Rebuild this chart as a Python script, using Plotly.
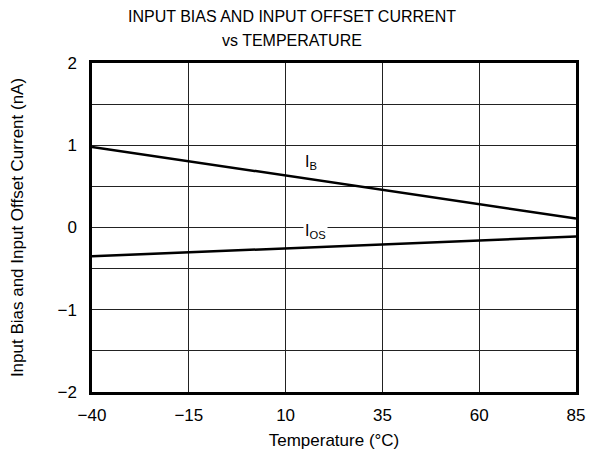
import plotly.graph_objects as go

temps = [-40, 85]
ib_values = [0.98, 0.11]
ios_values = [-0.35, -0.11]
x_ticks = [-40, -15, 10, 35, 60, 85]
y_ticks = [-2, -1, 0, 1, 2]

FONT = "Liberation Sans, Arial, sans-serif"

fig = go.Figure()
fig.add_trace(go.Scatter(x=temps, y=ib_values, mode="lines",
                         line=dict(color="black", width=2.5), showlegend=False))
fig.add_trace(go.Scatter(x=temps, y=ios_values, mode="lines",
                         line=dict(color="black", width=2.5), showlegend=False))

fig.add_annotation(x=16.5, y=0.79, text="I<sub>B</sub>", showarrow=False,
                   font=dict(family=FONT, size=16, color="black"))
fig.add_annotation(x=17.8, y=-0.05, text="I<sub>OS</sub>", showarrow=False,
                   bgcolor="white", borderpad=1,
                   font=dict(family=FONT, size=16, color="black"))

fig.add_annotation(xref="paper", yref="paper", x=0.4125, y=1.14,
                   text="INPUT BIAS AND INPUT OFFSET CURRENT", showarrow=False,
                   xanchor="center", yanchor="middle",
                   font=dict(family=FONT, size=16, color="black"))
fig.add_annotation(xref="paper", yref="paper", x=0.4125, y=1.067,
                   text="vs TEMPERATURE", showarrow=False,
                   xanchor="center", yanchor="middle",
                   font=dict(family=FONT, size=16, color="black"))

fig.update_layout(
    width=590, height=451,
    margin=dict(l=84, r=22, t=55, b=67),
    paper_bgcolor="white", plot_bgcolor="white",
    font=dict(family=FONT, size=17, color="black"),
)
fig.update_xaxes(range=[-40, 85], tickvals=x_ticks, showgrid=True,
                 gridcolor="#222", gridwidth=1.2, zeroline=False,
                 showline=True, linecolor="black", linewidth=2.5, mirror=True,
                 ticks="", ticklabelstandoff=6, automargin=False,
                 tickfont=dict(family=FONT, size=17),
                 title=dict(text="Temperature (°C)", standoff=10,
                            font=dict(family=FONT, size=17)))
fig.update_yaxes(range=[-2, 2], tickvals=y_ticks,
                 showgrid=True, gridcolor="#222", gridwidth=1.2, zeroline=False,
                 minor=dict(dtick=0.5, showgrid=True, gridcolor="#222", gridwidth=1.2),
                 showline=True, linecolor="black", linewidth=2.5, mirror=True,
                 ticks="", ticklabelstandoff=9, automargin=False,
                 tickfont=dict(family=FONT, size=17),
                 title=dict(text="Input Bias and Input Offset Current (nA)", standoff=30,
                            font=dict(family=FONT, size=17)))

fig.write_html("out.html")
